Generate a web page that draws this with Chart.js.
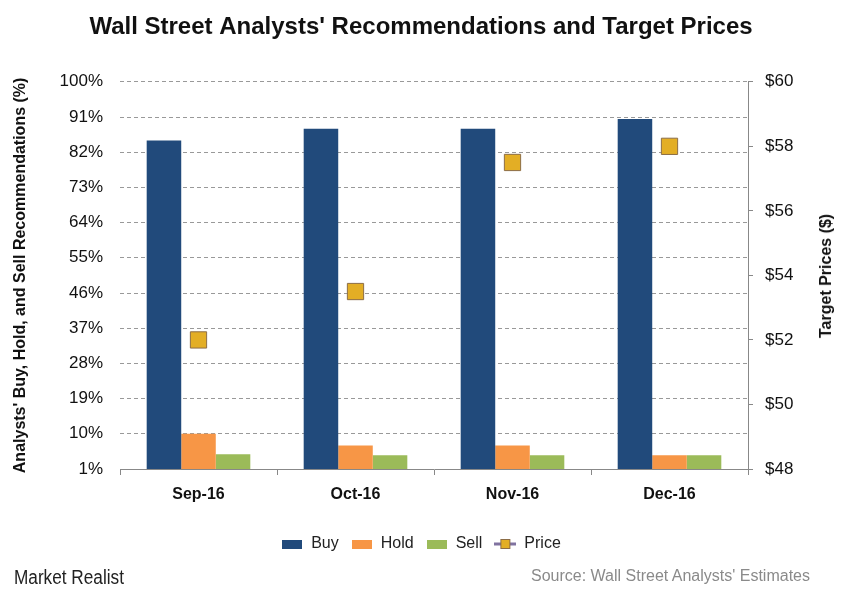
<!DOCTYPE html>
<html>
<head>
<meta charset="utf-8">
<script src="https://cdn.jsdelivr.net/npm/chart.js@4.4.0/dist/chart.umd.min.js"></script>
<style>
  body { margin: 0; background: #fff; }
  #wrap { position: relative; width: 842px; height: 600px; }
  #rightTitle {
    position: absolute; left: 826px; top: 276px;
    transform: translate(-50%, -50%) rotate(-90deg);
    font: bold 16px "Liberation Sans", Arial, sans-serif; color: #111; white-space: nowrap;
  }
  #brand {
    position: absolute; left: 14px; top: 566px;
    font: 20px "Liberation Sans", Arial, sans-serif; color: #222;
    transform: scaleX(0.86); transform-origin: left center; white-space: nowrap;
  }
  #brand sup { font-size: 13px; font-weight: bold; }
  #source {
    position: absolute; right: 32px; top: 567px;
    font: 16px "Liberation Sans", Arial, sans-serif; color: #8a8a8a;
  }
</style>
</head>
<body>
<div id="wrap">
  <canvas id="myChart" width="842" height="600"></canvas>
  <div id="rightTitle">Target Prices ($)</div>
  <div id="brand">Market Realist</div>
  <div id="source">Source: Wall Street Analysts' Estimates</div>
</div>
<script>
const months = ["Sep-16", "Oct-16", "Nov-16", "Dec-16"];
const buy = [85, 88, 88, 90.5];
const hold = [10, 7, 7, 4.5];
const sell = [4.8, 4.5, 4.5, 4.5];
const price = [52, 53.5, 57.5, 58];
const pctTicks = [1, 10, 19, 28, 37, 46, 55, 64, 73, 82, 91, 100];

const font = "'Liberation Sans', Arial, sans-serif";

// little icons for the legend
function boxIcon(color) {
  const c = document.createElement("canvas");
  c.width = 20; c.height = 9;
  const g = c.getContext("2d");
  g.fillStyle = color;
  g.fillRect(0, 0, 20, 9);
  return c;
}
function priceIcon() {
  const c = document.createElement("canvas");
  c.width = 22; c.height = 12;
  const g = c.getContext("2d");
  g.strokeStyle = "#8073a0";
  g.lineWidth = 3;
  g.beginPath(); g.moveTo(0, 6); g.lineTo(22, 6); g.stroke();
  g.fillStyle = "#e3ae25";
  g.strokeStyle = "#8c6d46";
  g.lineWidth = 1;
  g.fillRect(6, 1, 10, 10);
  g.strokeRect(6.5, 1.5, 9, 9);
  return c;
}

const order = ["Buy", "Hold", "Sell", "Price"];

const ctx = document.getElementById("myChart");
new Chart(ctx, {
  data: {
    labels: months,
    datasets: [
      { type: "line", label: "Price", data: price, yAxisID: "y2", showLine: false,
        pointStyle: "rect", pointRadius: 11.5, pointHoverRadius: 11.5,
        backgroundColor: "#e3ae25", borderColor: "#8c6d46", borderWidth: 1, order: 0 },
      { type: "bar", label: "Buy", data: buy, yAxisID: "y", backgroundColor: "#214a7b", order: 1 },
      { type: "bar", label: "Hold", data: hold, yAxisID: "y", backgroundColor: "#f79646", order: 1 },
      { type: "bar", label: "Sell", data: sell, yAxisID: "y", backgroundColor: "#9bbb59", order: 1 },
    ],
  },
  options: {
    responsive: false,
    animation: false,
    categoryPercentage: 0.66,
    barPercentage: 1.0,
    layout: { padding: { left: 0, right: 0, top: 0, bottom: 38 } },
    plugins: {
      title: {
        display: true,
        text: "Wall Street Analysts' Recommendations and Target Prices",
        color: "#111",
        font: { family: font, size: 24, weight: "bold" },
        padding: { top: 13, bottom: 40 },
      },
      legend: {
        position: "bottom",
        labels: {
          usePointStyle: true,
          pointStyleWidth: 22,
          color: "#222",
          font: { family: font, size: 16 },
          padding: 12,
          sort: (a, b) => order.indexOf(a.text) - order.indexOf(b.text),
          generateLabels: (chart) => chart.data.datasets.map((ds, i) => ({
            text: ds.label,
            datasetIndex: i,
            fontColor: "#222",
            pointStyle: ds.label === "Price" ? priceIcon() : boxIcon(ds.backgroundColor),
            lineWidth: 0,
            strokeStyle: "transparent",
            fillStyle: ds.backgroundColor,
          })),
        },
      },
      tooltip: { enabled: false },
    },
    scales: {
      x: {
        grid: { offset: true, drawOnChartArea: false, tickLength: 6, color: "#888" },
        border: { color: "#888" },
        ticks: { color: "#111", font: { family: font, size: 16, weight: "bold" }, padding: 10 },
        afterFit: (scale) => { scale.height = 55; },
      },
      y: {
        position: "left",
        min: 1,
        max: 100,
        afterBuildTicks: (scale) => { scale.ticks = pctTicks.map((v) => ({ value: v })); },
        grid: { drawTicks: false, color: "#999" },
        border: { display: false, dash: [4, 3] },
        ticks: { color: "#111", font: { family: font, size: 17 }, padding: 17, callback: (v) => v + "%" },
        title: {
          display: true,
          text: "Analysts' Buy, Hold, and Sell Recommendations (%)",
          color: "#111",
          font: { family: font, size: 16, weight: "bold" },
          padding: { top: 11, bottom: 0 },
        },
        afterFit: (scale) => { scale.width = 120; },
      },
      y2: {
        position: "right",
        min: 48,
        max: 60,
        ticks: { stepSize: 2, color: "#111", font: { family: font, size: 17 }, padding: 12, callback: (v) => "$" + v },
        grid: { drawOnChartArea: false, tickLength: 5, color: "#888" },
        border: { color: "#888" },
        afterFit: (scale) => { scale.width = 94; },
      },
    },
  },
});
</script>
</body>
</html>
